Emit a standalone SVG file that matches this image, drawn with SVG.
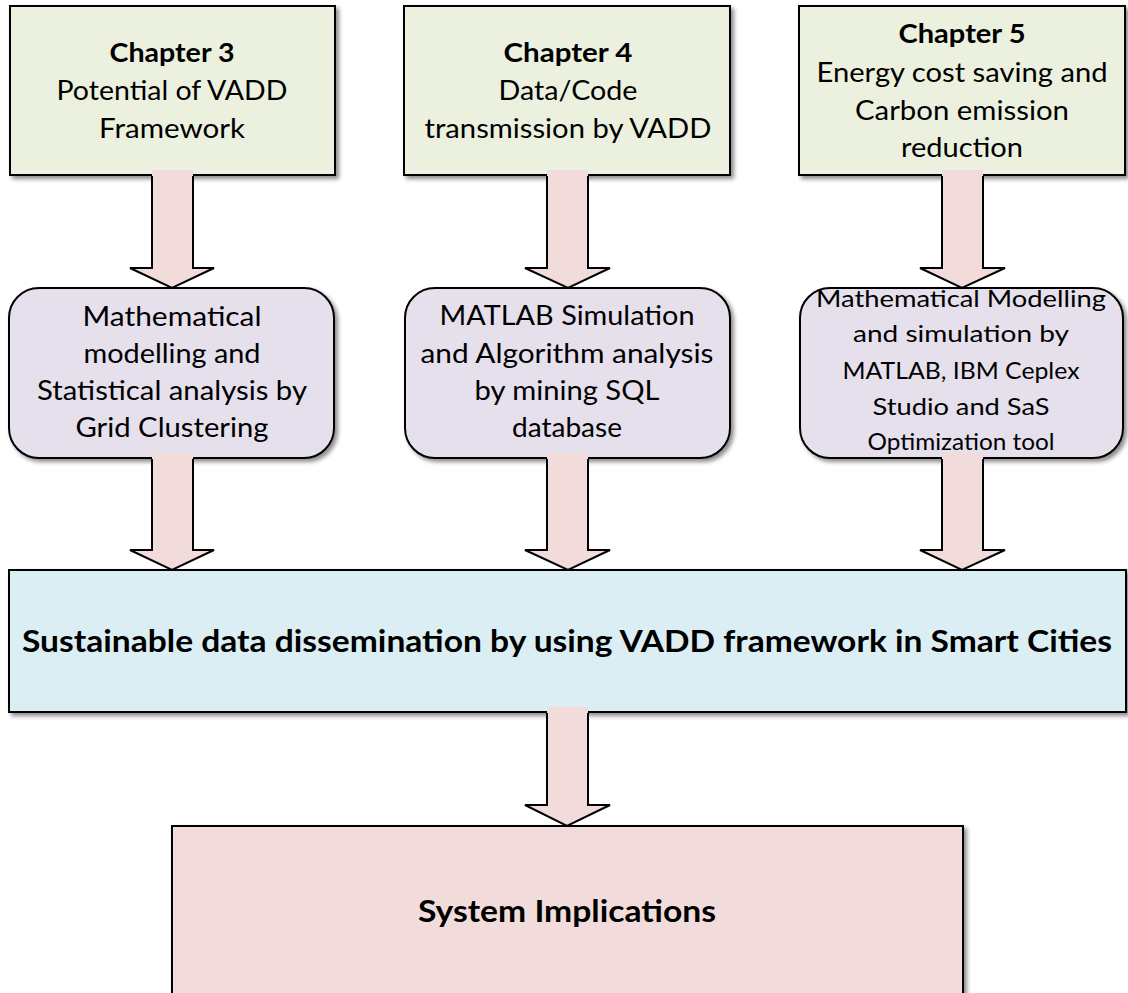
<svg xmlns="http://www.w3.org/2000/svg" width="1128" height="993" viewBox="0 0 1128 993">
  <defs>
    <filter id="shadow" x="-5%" y="-5%" width="110%" height="115%">
      <feDropShadow dx="3" dy="3" stdDeviation="2" flood-color="#000" flood-opacity="0.45"/>
    </filter>
  </defs>
  <style>
    .box { stroke: #000; stroke-width: 2; filter: url(#shadow); }
    .chapter { fill: #ebf1de; }
    .method { fill: #e5e0ec; }
    .result { fill: #dbeef4; }
    .impl { fill: #f2dcdb; }
    .txt { font-family: Lato, "Open Sans", sans-serif; font-size: 27px; fill: #000; text-anchor: middle; }
    .sm { font-size: 24px; }
    .b { font-weight: bold; }
    .big { font-size: 30px; font-weight: bold; }
    .arrow-fill { fill: #f2dcdb; stroke: none; }
    .arrow-line { fill: none; stroke: #000; stroke-width: 2; stroke-linejoin: miter; }
  </style>
  <rect width="1128" height="993" fill="#fff"/>

  <!-- top row: chapters -->
  <g id="chapter3">
    <rect class="box chapter" x="10" y="6" width="325" height="169"/>
    <text class="txt b" x="172" y="62" textLength="125" lengthAdjust="spacingAndGlyphs">Chapter 3</text>
    <text class="txt" x="172" y="100" textLength="231" lengthAdjust="spacingAndGlyphs">Potential of VADD</text>
    <text class="txt" x="172" y="138" textLength="146" lengthAdjust="spacingAndGlyphs">Framework</text>
  </g>
  <g id="chapter4">
    <rect class="box chapter" x="404" y="6" width="326" height="169"/>
    <text class="txt b" x="568" y="62" textLength="129" lengthAdjust="spacingAndGlyphs">Chapter 4</text>
    <text class="txt" x="568" y="100" textLength="139" lengthAdjust="spacingAndGlyphs">Data/Code</text>
    <text class="txt" x="568" y="138" textLength="287" lengthAdjust="spacingAndGlyphs">transmission by VADD</text>
  </g>
  <g id="chapter5">
    <rect class="box chapter" x="799" y="6" width="326" height="169"/>
    <text class="txt b" x="962" y="43" textLength="127" lengthAdjust="spacingAndGlyphs">Chapter 5</text>
    <text class="txt" x="962" y="82" textLength="291" lengthAdjust="spacingAndGlyphs">Energy cost saving and</text>
    <text class="txt" x="962" y="120" textLength="214" lengthAdjust="spacingAndGlyphs">Carbon emission</text>
    <text class="txt" x="962" y="157" textLength="122" lengthAdjust="spacingAndGlyphs">reduction</text>
  </g>

  <!-- middle row: methods -->
  <g id="method3">
    <rect class="box method" x="9" y="288" width="325" height="170" rx="30" ry="30"/>
    <text class="txt" x="172" y="326" textLength="179" lengthAdjust="spacingAndGlyphs">Mathematical</text>
    <text class="txt" x="172" y="363" textLength="177" lengthAdjust="spacingAndGlyphs">modelling and</text>
    <text class="txt" x="172" y="400" textLength="270" lengthAdjust="spacingAndGlyphs">Statistical analysis by</text>
    <text class="txt" x="172" y="437" textLength="193" lengthAdjust="spacingAndGlyphs">Grid Clustering</text>
  </g>
  <g id="method4">
    <rect class="box method" x="405" y="288" width="325" height="170" rx="30" ry="30"/>
    <text class="txt" x="567" y="325" textLength="255" lengthAdjust="spacingAndGlyphs">MATLAB Simulation</text>
    <text class="txt" x="567" y="363" textLength="293" lengthAdjust="spacingAndGlyphs">and Algorithm analysis</text>
    <text class="txt" x="567" y="400" textLength="185" lengthAdjust="spacingAndGlyphs">by mining SQL</text>
    <text class="txt" x="567" y="437" textLength="110" lengthAdjust="spacingAndGlyphs">database</text>
  </g>
  <g id="method5">
    <rect class="box method" x="800" y="288" width="323" height="170" rx="30" ry="30"/>
    <text class="txt sm" x="961" y="307" textLength="290" lengthAdjust="spacingAndGlyphs">Mathematical Modelling</text>
    <text class="txt sm" x="961" y="342" textLength="216" lengthAdjust="spacingAndGlyphs">and simulation by</text>
    <text class="txt sm" x="961" y="379" textLength="237" lengthAdjust="spacingAndGlyphs">MATLAB, IBM Ceplex</text>
    <text class="txt sm" x="961" y="415" textLength="177" lengthAdjust="spacingAndGlyphs">Studio and SaS</text>
    <text class="txt sm" x="961" y="450" textLength="187" lengthAdjust="spacingAndGlyphs">Optimization tool</text>
  </g>

  <!-- combined outcome -->
  <g id="outcome">
    <rect class="box result" x="9" y="570" width="1117" height="142"/>
    <text class="txt big" x="567" y="652" textLength="1090" lengthAdjust="spacingAndGlyphs">Sustainable data dissemination by using VADD framework in Smart Cities</text>
  </g>

  <!-- implications -->
  <g id="implications">
    <rect class="box impl" x="172" y="826" width="791" height="190"/>
    <text class="txt big" x="567" y="922" textLength="298" lengthAdjust="spacingAndGlyphs">System Implications</text>
  </g>

  <!-- block arrows -->
  <g id="connectors">
    <!-- chapter 3 to method -->
    <polygon class="arrow-fill" points="152,170 193,170 193,268 214,268 172,288 130,268 152,268"/>
    <polyline class="arrow-line" points="193,176 193,268 214,268 172,288 130,268 152,268 152,176"/>
    <!-- chapter 4 to method -->
    <polygon class="arrow-fill" points="547,170 588,170 588,268 610,268 568,288 525,268 547,268"/>
    <polyline class="arrow-line" points="588,176 588,268 610,268 568,288 525,268 547,268 547,176"/>
    <!-- chapter 5 to method -->
    <polygon class="arrow-fill" points="942,170 983,170 983,268 1005,268 962,288 920,268 942,268"/>
    <polyline class="arrow-line" points="983,176 983,268 1005,268 962,288 920,268 942,268 942,176"/>
    <!-- methods to outcome -->
    <polygon class="arrow-fill" points="152,453 193,453 193,550 214,550 172,570 130,550 152,550"/>
    <polyline class="arrow-line" points="193,459 193,550 214,550 172,570 130,550 152,550 152,459"/>
    <polygon class="arrow-fill" points="547,453 588,453 588,550 610,550 568,570 525,550 547,550"/>
    <polyline class="arrow-line" points="588,459 588,550 610,550 568,570 525,550 547,550 547,459"/>
    <polygon class="arrow-fill" points="942,453 983,453 983,550 1005,550 962,570 920,550 942,550"/>
    <polyline class="arrow-line" points="983,459 983,550 1005,550 962,570 920,550 942,550 942,459"/>
    <!-- outcome to implications -->
    <polygon class="arrow-fill" points="547,707 588,707 588,805 610,805 567,826 525,805 547,805"/>
    <polyline class="arrow-line" points="588,713 588,805 610,805 567,826 525,805 547,805 547,713"/>
  </g>
</svg>
